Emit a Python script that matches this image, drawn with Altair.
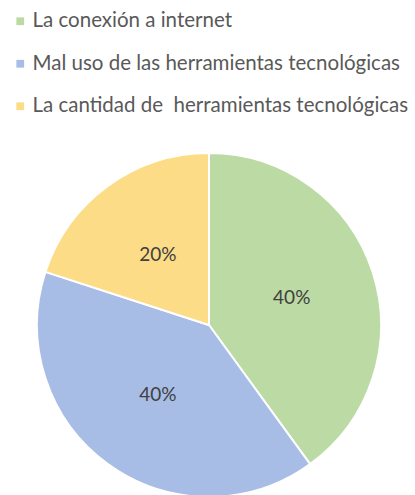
import altair as alt
import pandas as pd

categories = ["La conexión a internet",
              "Mal uso de las herramientas tecnológicas",
              "La cantidad de\u00a0 herramientas tecnológicas"]
values = [40, 40, 20]
labels = ["40%", "40%", "20%"]
colors = ["#bcdaa4", "#a8bde6", "#fcdc86"]

df = pd.DataFrame({"cat": categories, "val": values, "lab": labels,
                   "order": [0, 1, 2]})

CX, CY, R = 209, 325, 172

color = alt.Color("cat:N", scale=alt.Scale(domain=categories, range=colors),
                  sort=categories,
                  legend=alt.Legend(title=None, orient="none", legendX=10, legendY=11,
                                    symbolType="square", symbolSize=60,
                                    symbolStrokeWidth=0,
                                    labelFontSize=20.5, labelFont="Lato",
                                    labelColor="#595959", rowPadding=21.5,
                                    labelLimit=500, labelOffset=2))

base = alt.Chart(df).encode(
    theta=alt.Theta("val:Q", stack=True),
    order=alt.Order("order:Q"),
)

pie = base.mark_arc(outerRadius=R, stroke="white", strokeWidth=2).encode(
    color=color, x=alt.value(CX), y=alt.value(CY))

text = base.mark_text(radius=87, font="Lato", fontSize=19, color="#404040").encode(
    text="lab:N", x=alt.value(CX), y=alt.value(CY))

chart = alt.layer(pie, text).properties(
    width=415, height=495, padding=0,
    autosize=alt.AutoSizeParams(type="none")
).configure_view(stroke=None)

chart.save("out.html", embed_options={"renderer": "svg", "actions": False})
